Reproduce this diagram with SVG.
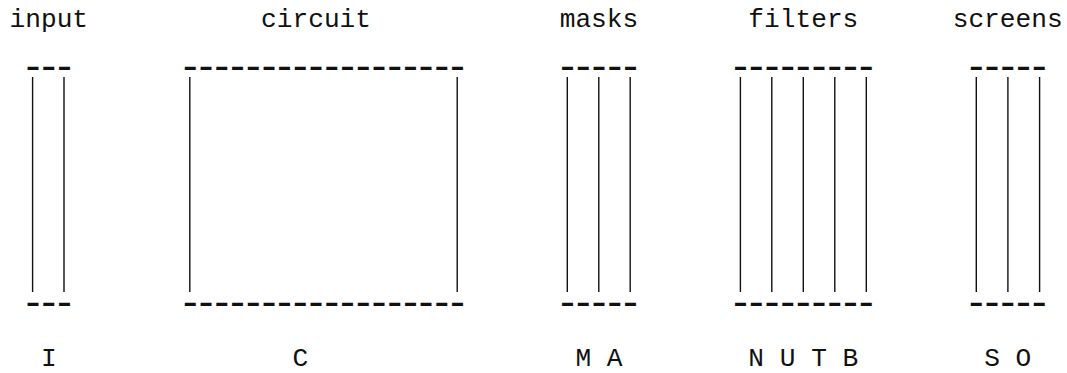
<svg xmlns="http://www.w3.org/2000/svg" width="1067" height="373" viewBox="0 0 1067 373">
<style>
text{font-family:"Liberation Mono","Courier New",monospace;font-size:26.2px;fill:#111;white-space:pre}
text.d{font-size:40px;letter-spacing:-8.28px}
.bar{stroke:#111;stroke-width:1.4;fill:none}
</style>
<rect width="1067" height="373" fill="#fff"/>
<g id="input">
<text x="9.5" y="27">input</text>
<text class="d" x="21.08" y="78.7">---</text>
<line class="bar" x1="32.6" y1="77" x2="32.6" y2="292"/>
<line class="bar" x1="64" y1="77" x2="64" y2="292"/>
<text class="d" x="21.08" y="314.7">---</text>
<text x="40.94" y="366">I</text>
</g>
<g id="circuit">
<text x="261.02" y="27">circuit</text>
<text class="d" x="178.28" y="78.7">------------------</text>
<line class="bar" x1="189.8" y1="77" x2="189.8" y2="292"/>
<line class="bar" x1="457.2" y1="77" x2="457.2" y2="292"/>
<text class="d" x="178.28" y="314.7">------------------</text>
<text x="292.46" y="366">C</text>
</g>
<g id="masks">
<text x="559.7" y="27">masks</text>
<text class="d" x="555.56" y="78.7">-----</text>
<line class="bar" x1="567.3" y1="77" x2="567.3" y2="292"/>
<line class="bar" x1="598.8" y1="77" x2="598.8" y2="292"/>
<line class="bar" x1="630.2" y1="77" x2="630.2" y2="292"/>
<text class="d" x="555.56" y="314.7">-----</text>
<text x="575.42" y="366">M A</text>
</g>
<g id="filters">
<text x="748.34" y="27">filters</text>
<text class="d" x="728.48" y="78.7">---------</text>
<line class="bar" x1="740.4" y1="77" x2="740.4" y2="292"/>
<line class="bar" x1="771.8" y1="77" x2="771.8" y2="292"/>
<line class="bar" x1="803.3" y1="77" x2="803.3" y2="292"/>
<line class="bar" x1="834.8" y1="77" x2="834.8" y2="292"/>
<line class="bar" x1="866.3" y1="77" x2="866.3" y2="292"/>
<text class="d" x="728.48" y="314.7">---------</text>
<text x="748.34" y="366">N U T B</text>
</g>
<g id="screens">
<text x="952.7" y="27">screens</text>
<text class="d" x="964.28" y="78.7">-----</text>
<line class="bar" x1="976.3" y1="77" x2="976.3" y2="292"/>
<line class="bar" x1="1007.9" y1="77" x2="1007.9" y2="292"/>
<line class="bar" x1="1039.6" y1="77" x2="1039.6" y2="292"/>
<text class="d" x="964.28" y="314.7">-----</text>
<text x="984.14" y="366">S O</text>
</g>
<g id="connectors"/>
</svg>
